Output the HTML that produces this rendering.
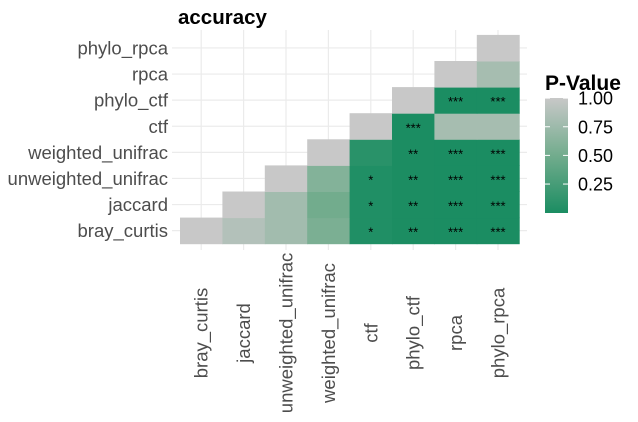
<!DOCTYPE html>
<html><head><meta charset="utf-8"><style>
body{margin:0;background:#fff}
svg{display:block;font-family:"Liberation Sans",Arial,sans-serif}
</style></head><body>
<svg id="c" width="638" height="422">
<text x="178" y="24" font-size="20.5" font-weight="bold" fill="#000">accuracy</text>
<g id="grid"></g><g id="cells"></g><g id="stars"></g><g id="ylab"></g><g id="xlab"></g>
<g id="legend">
<defs><linearGradient id="lg" x1="0" y1="1" x2="0" y2="0">
<stop offset="0" stop-color="#1b8d62"/><stop offset="0.5" stop-color="#72ac8d"/><stop offset="1" stop-color="#c8c8c8"/></linearGradient></defs>
<text x="545" y="90" font-size="21" font-weight="bold">P-Value</text>
<rect x="545" y="98" width="23" height="115" fill="url(#lg)"/>
</g>
</svg>
<script>
const metrics=["bray_curtis","jaccard","unweighted_unifrac","weighted_unifrac","ctf","phylo_ctf","rpca","phylo_rpca"];
// pvalues[row][col], row = y metric, col = x metric; null = empty
const pvalues=[
[1,0.88,0.78,0.55,0.03,0.005,0.0005,0.0005],
[null,1,0.78,0.5,0.03,0.005,0.0005,0.0005],
[null,null,1,0.6,0.03,0.005,0.0005,0.0005],
[null,null,null,1,0.08,0.005,0.0005,0.0005],
[null,null,null,null,1,0.0005,0.8,0.8],
[null,null,null,null,null,1,0.0005,0.0005],
[null,null,null,null,null,null,1,0.8],
[null,null,null,null,null,null,null,1]];
const stars=[
["","","","","*","**","***","***"],
["","","","","*","**","***","***"],
["","","","","*","**","***","***"],
["","","","","","**","***","***"],
["","","","","","***","",""],
["","","","","","","***","***"],
["","","","","","","",""],
["","","","","","","",""]];
const legendTicks=[1.00,0.75,0.50,0.25];
const NS="http://www.w3.org/2000/svg";
const x0=180,cw=42.4,yb=243.7,ch=26.1;
const xc=i=>x0+cw*(i+0.5), yc=j=>yb-ch*(j+0.5);
const lg=v=>212.7-v*114.6;
function col(v){const a=[27,141,98],b=[200,200,200],m=[114,172,141];
 let c;if(v<0.5){const t=v/0.5;c=a.map((x,i)=>x+(m[i]-x)*t);}else{const t=(v-0.5)/0.5;c=m.map((x,i)=>x+(b[i]-x)*t);}
 return`rgb(${c.map(Math.round).join(",")})`;}
function mk(t,p,at){const e=document.createElementNS(NS,t);for(const k in at)e.setAttribute(k,at[k]);p.appendChild(e);return e;}
const G=document.getElementById("grid");
metrics.forEach((m,i)=>{
 let l=mk("line",G,{x1:xc(i),x2:xc(i),y1:30,y2:250,stroke:"#ebebeb","stroke-width":1.2});
 
 
 l=mk("line",G,{x1:172,x2:527,y1:yc(i),y2:yc(i),stroke:"#ebebeb","stroke-width":1.2});
 
 
});
const C=document.getElementById("cells"),S=document.getElementById("stars");
pvalues.forEach((row,j)=>row.forEach((v,i)=>{
 if(v===null)return;
 const r=mk("rect",C,{x:xc(i)-cw/2,y:yc(j)-ch/2,width:cw+0.5,height:ch+0.5,fill:col(v)});
 
 
 if(stars[j][i]){const t=mk("text",S,{x:xc(i),y:yc(j)+6,"font-size":13,"text-anchor":"middle",fill:"#000"});t.textContent=stars[j][i];
 
 }
}));
const Y=document.getElementById("ylab"),X=document.getElementById("xlab");
metrics.forEach((m,i)=>{
 const t=mk("text",Y,{x:168,y:yc(i)+6.5,"font-size":18.5,"text-anchor":"end",fill:"#4d4d4d"});t.textContent=m;
 
 
 const u=mk("text",X,{x:0,y:0,"font-size":18.5,"text-anchor":"middle",fill:"#4d4d4d",transform:`translate(${xc(i)+6.5},333) rotate(-90)`});u.textContent=m;
 
 
});
const L=document.getElementById("legend");
legendTicks.forEach(v=>{
 const t=mk("text",L,{x:578,y:lg(v)+6.5,"font-size":18,fill:"#000"});t.textContent=v.toFixed(2);
 
 
 let l=mk("line",L,{x1:545,x2:550,y1:lg(v),y2:lg(v),stroke:"#fff","stroke-width":1});
 
 
 l=mk("line",L,{x1:563,x2:568,y1:lg(v),y2:lg(v),stroke:"#fff","stroke-width":1});
 
 
});
</script>
</body></html>
